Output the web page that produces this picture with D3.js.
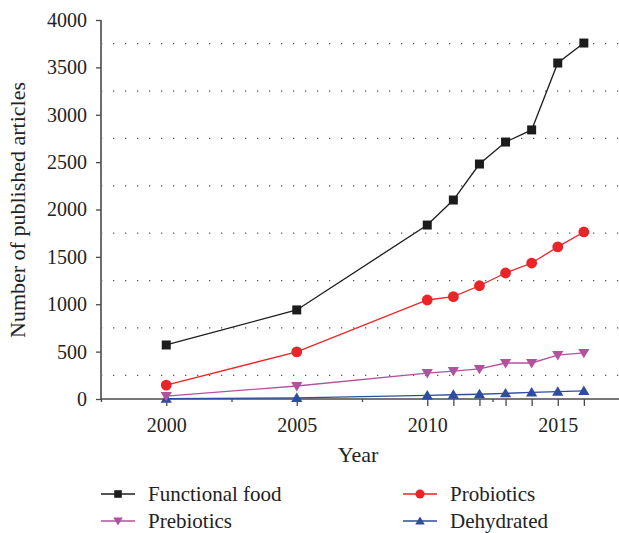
<!DOCTYPE html>
<html><head><meta charset="utf-8">
<script src="https://cdn.jsdelivr.net/npm/d3@7"></script>
<style>body{margin:0;background:#fff}svg{display:block}svg text{font-family:'Liberation Serif','DejaVu Serif',serif !important}</style>
</head><body>
<svg id="c" width="619" height="533"></svg>
<script>
const years = [2000, 2005, 2010, 2011, 2012, 2013, 2014, 2015, 2016];
const functionalFood = [570, 940, 1836, 2100, 2480, 2712, 2840, 3546, 3757];
const probiotics = [147, 497, 1045, 1080, 1195, 1330, 1435, 1605, 1763];
const prebiotics = [30, 137, 274, 295, 317, 380, 380, 464, 486];
const dehydrated = [3, 12, 38, 45, 50, 60, 70, 78, 85];
const yTicks = [0, 500, 1000, 1500, 2000, 2500, 3000, 3500, 4000];
const yGrid = [250, 750, 1250, 1750, 2250, 2750, 3250, 3750];
const xMajor = [2000, 2005, 2010, 2011, 2012, 2013, 2014, 2015, 2016];
const xLabels = [2000, 2005, 2010, 2015];
const xMinor = [1997.5, 2002.5, 2007.5, 2012.5, 2017.5];
const seriesNames = ["Functional food", "Probiotics", "Prebiotics", "Dehydrated"];

const series = [
  {name: seriesNames[0], values: functionalFood, color: "#1c1c1c", shape: "square"},
  {name: seriesNames[1], values: probiotics, color: "#ec2327", shape: "circle"},
  {name: seriesNames[2], values: prebiotics, color: "#b4519f", shape: "down"},
  {name: seriesNames[3], values: dehydrated, color: "#2f4d9f", shape: "up"}
];

const svg = d3.select("#c");
const font = "'Liberation Serif', 'DejaVu Serif', serif";
const x = d3.scaleLinear().domain([1997.5, 2017.5]).range([101, 623]);
const y = d3.scaleLinear().domain([0, 4000]).range([399, 20]);

svg.append("g").selectAll("line").data(yGrid).join("line")
  .attr("x1", 102).attr("x2", 619)
  .attr("y1", d => y(d)).attr("y2", d => y(d))
  .attr("stroke", "#555").attr("stroke-width", 1.3)
  .attr("stroke-dasharray", "1.3,10.7").attr("stroke-dashoffset", -11);

const axisColor = "#4a4a4a";
const gy = svg.append("g").attr("transform", "translate(101,0)")
  .call(d3.axisLeft(y).tickValues(yTicks).tickSize(5).tickPadding(9).tickFormat(d3.format("d")));
const gx = svg.append("g").attr("transform", "translate(0,399)")
  .call(d3.axisBottom(x).tickValues(xMajor).tickSize(7).tickPadding(12)
    .tickFormat(d => xLabels.includes(d) ? d : ""));
const gxm = svg.append("g").attr("transform", "translate(0,399)")
  .call(d3.axisBottom(x).tickValues(xMinor).tickSize(3).tickFormat(""));
gxm.select(".domain").remove();
[gy, gx, gxm].forEach(g => {
  g.attr("font-family", font);
  g.select(".domain").attr("stroke", axisColor).attr("stroke-width", 1.6);
  g.selectAll(".tick line").attr("stroke", axisColor).attr("stroke-width", 1.3);
  g.selectAll("text").style("font-family", font).style("font-size", "20px").attr("fill", "#222");
});
gy.select(".domain").attr("d", "M0,20V399");
gx.select(".domain").attr("d", "M101,0H619");

const line = d3.line().x((d, i) => x(years[i])).y(d => y(d));
function marker(sel, shape, s) {
  if (shape === "square") return sel.append("rect").attr("x", -s).attr("y", -s).attr("width", 2*s).attr("height", 2*s);
  if (shape === "circle") return sel.append("circle").attr("r", s * 1.2);
  if (shape === "down") return sel.append("path").attr("d", `M${-s*1.25},${-s*0.9}L${s*1.25},${-s*0.9}L0,${s*1.2}Z`);
  return sel.append("path").attr("d", `M${-s*1.25},${s*0.9}L${s*1.25},${s*0.9}L0,${-s*1.2}Z`);
}
series.slice().reverse().forEach(s => {
  svg.append("path").datum(s.values).attr("d", line)
    .attr("fill", "none").attr("stroke", s.color).attr("stroke-width", 1.3);
});
series.slice().reverse().forEach(s => {
  svg.append("g").selectAll("g").data(s.values).join("g")
    .attr("transform", (d, i) => `translate(${x(years[i])},${y(d)})`)
    .each(function() { marker(d3.select(this), s.shape, 4.5).attr("fill", s.color); });
});

svg.append("text").attr("x", 358).attr("y", 462).attr("text-anchor", "middle")
  .style("font-family", font).style("font-size", "22px").attr("fill", "#222").text("Year");
svg.append("text").attr("transform", "translate(25,210) rotate(-90)").attr("text-anchor", "middle")
  .style("font-family", font).style("font-size", "22px").attr("fill", "#222").text("Number of published articles");

const legPos = [[101, 494], [403, 494], [101, 521], [403, 521]];
series.forEach((s, i) => {
  const [lx, ly] = legPos[i];
  const g = svg.append("g").attr("transform", `translate(${lx},${ly})`);
  g.append("line").attr("x1", 0).attr("x2", 34).attr("stroke", s.color).attr("stroke-width", 1.3);
  marker(g.append("g").attr("transform", "translate(17,0)"), s.shape, 3.8).attr("fill", s.color);
  g.append("text").attr("x", 47).attr("y", 7).style("font-family", font).style("font-size", "21px")
    .attr("fill", "#222").text(s.name);
});
</script>
</body></html>
